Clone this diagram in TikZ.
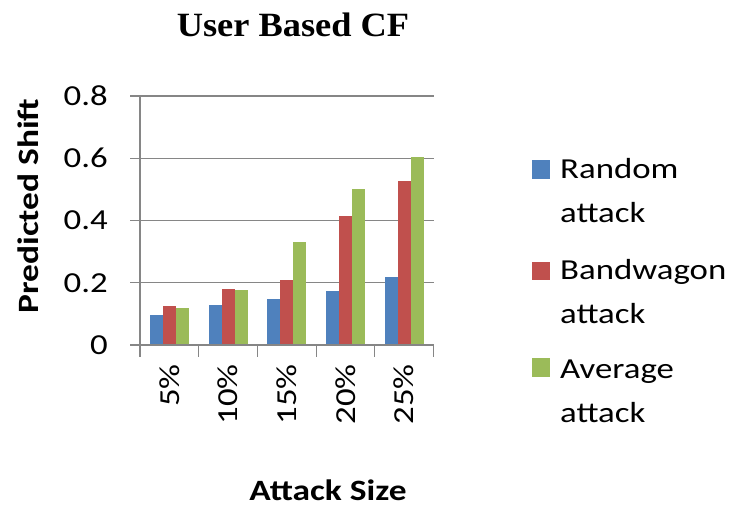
\documentclass[tikz,border=0pt]{standalone}
\usepackage{fontspec}
\setmainfont{Carlito}[FakeStretch=1.2]
\newfontfamily\titlefont{Liberation Serif}[FakeStretch=1.07]
\definecolor{barblue}{HTML}{4F81BD}
\definecolor{barred}{HTML}{C0504D}
\definecolor{bargreen}{HTML}{9BBB59}
\definecolor{axisgray}{HTML}{868686}
\begin{document}
\begin{tikzpicture}[x=1pt,y=-1pt,
  gridline/.style={draw=axisgray,line width=1.2pt},
  ylab/.style={font=\fontsize{29}{29}\selectfont,anchor=east,inner sep=0pt},
  xlab/.style={font=\fontsize{29}{29}\selectfont,rotate=90,anchor=east,inner sep=0pt},
  legtext/.style={font=\fontsize{29}{44}\selectfont,align=left,anchor=base west,inner sep=0pt},
  axtitle/.style={font=\bfseries\fontsize{29.5}{29.5}\selectfont,inner sep=0pt,anchor=base},
  bar/.style={draw=none}]
\useasboundingbox (0,0) rectangle (735,508);
% chart title
\node[font=\titlefont\bfseries\fontsize{34}{34}\selectfont,anchor=base,inner sep=0pt] (title) at (293,37) {User Based CF};
% horizontal gridlines with left tick marks and value labels
\foreach \v/\t [count=\k from 0] in {0/0,0.2/0.2,0.4/0.4,0.6/0.6,0.8/0.8}{
  \pgfmathsetmacro{\yy}{345-\v*311.25}
  \coordinate (g\k) at (434,\yy);
  \coordinate (gl\k) at (130,\yy);
  \draw[gridline] (gl\k) -- (g\k);
  \node[ylab] (yl\k) at (108,\yy) {\t};
}
% bars: random, bandwagon, average
\foreach \b/\r/\g/\lab [count=\i from 0] in {
  0.096/0.124/0.119/5\%,
  0.130/0.181/0.176/10\%,
  0.147/0.209/0.332/15\%,
  0.175/0.415/0.500/20\%,
  0.219/0.527/0.605/25\%}{
  \pgfmathsetmacro{\xl}{140+58.7*\i}
  \fill[barblue]  (\xl+10,345) rectangle (\xl+23,345-\b*311.25);
  \fill[barred]   (\xl+23,345) rectangle (\xl+36,345-\r*311.25);
  \fill[bargreen] (\xl+36,345) rectangle (\xl+49,345-\g*311.25);
  \node[xlab] (xl\i) at (\xl+29.35,364) {\lab};
}
% axes and category ticks
\coordinate (ytop) at (140,96);
\coordinate (orig) at (140,345);
\draw[gridline] (ytop) -- (orig);
\draw[gridline] (orig) -- (g0);
\foreach \i in {0,...,5}{
  \pgfmathsetmacro{\xt}{140+58.7*\i}
  \coordinate (ta\i) at (\xt,345);
  \coordinate (tb\i) at (\xt,357);
  \draw[gridline] (ta\i) -- (tb\i);
}
% axis titles
\node[axtitle,rotate=90] (ytitle) at (38,206) {Predicted Shift};
\node[axtitle] (xtitle) at (328,500) {Attack Size};
% legend (node base is the baseline of the second line)
\fill[barblue]  (532,160) rectangle (550,179);
\node[legtext] (leg1) at (560,222) {Random\\attack};
\fill[barred]   (532,262) rectangle (550,280);
\node[legtext] (leg2) at (560,323) {Bandwagon\\attack};
\fill[bargreen] (532,358) rectangle (550,377);
\node[legtext] (leg3) at (560,422) {Average\\attack};
\end{tikzpicture}
\end{document}
